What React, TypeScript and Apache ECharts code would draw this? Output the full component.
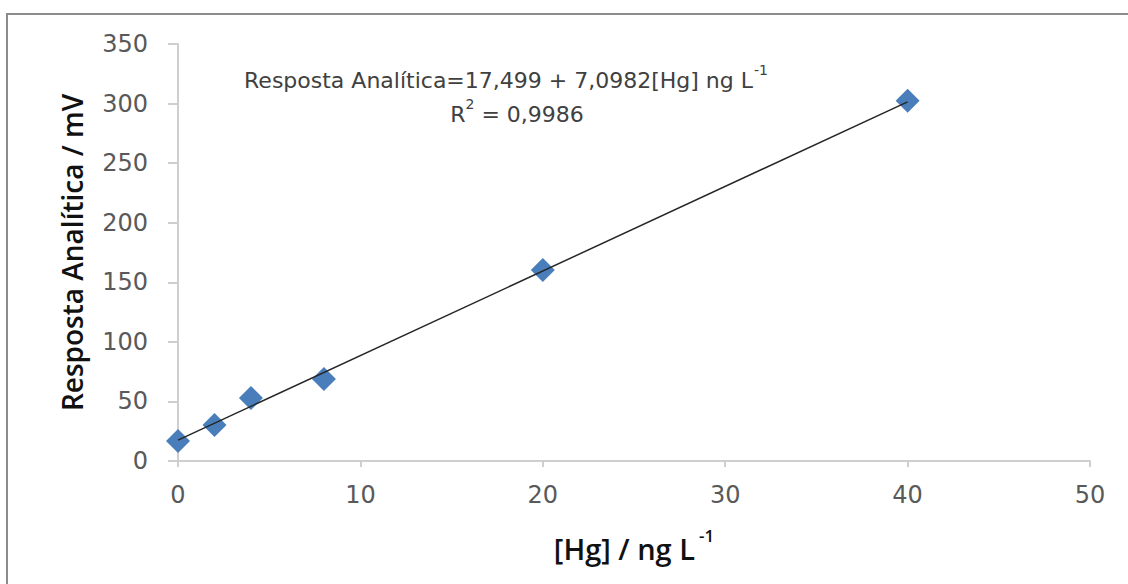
import React, { useEffect, useRef } from "react";
import * as echarts from "echarts";

const concentrations = [0, 2, 4, 8, 20, 40];
const responses = [16.8, 30.2, 52.9, 68.8, 160.4, 302.3];
const trendX = [0, 40];
const intercept = 17.499;
const slope = 7.0982;
const trendY = trendX.map((x) => intercept + slope * x);
const equationText = "Resposta Analítica=17,499 + 7,0982[Hg] ng L";
const r2Text = "0,9986";

export default function App() {
  const ref = useRef<HTMLDivElement>(null);
  useEffect(() => {
    document.body.style.margin = "0";
    const chart = echarts.init(ref.current!, undefined, { renderer: "svg" });
    chart.setOption({
      animation: false,
      backgroundColor: "#ffffff",
      grid: { left: 178, right: 38, top: 44, bottom: 123 },
      xAxis: {
        type: "value",
        min: 0,
        max: 50,
        interval: 10,
        splitLine: { show: false },
        axisLine: { show: true, lineStyle: { color: "#cfcfcf", width: 2 } },
        axisTick: { show: true, length: 6, lineStyle: { color: "#cfcfcf", width: 2 } },
        axisLabel: { fontFamily: "DejaVu Sans", fontSize: 24, color: "#595959", margin: 22 },
        name: "{a|[Hg] / ng L}{s|-1}",
        nameLocation: "middle",
        nameGap: 66,
        nameTextStyle: {
          rich: {
            a: { fontFamily: "Open Sans", fontWeight: 600, fontSize: 29, color: "#111", lineHeight: 36, verticalAlign: "bottom" },
            s: { fontFamily: "Open Sans", fontWeight: 600, fontSize: 17, color: "#111", lineHeight: 36, verticalAlign: "top", padding: [0, 0, 0, 4] },
          },
        },
      },
      yAxis: {
        type: "value",
        min: 0,
        max: 350,
        interval: 50,
        splitLine: { show: false },
        axisLine: { show: true, lineStyle: { color: "#cfcfcf", width: 2 } },
        axisTick: { show: true, length: 10, lineStyle: { color: "#cfcfcf", width: 2 } },
        axisLabel: { fontFamily: "DejaVu Sans", fontSize: 24, color: "#595959", margin: 30 },
        name: "Resposta Analítica / mV",
        nameLocation: "middle",
        nameGap: 92,
        nameTextStyle: { fontFamily: "Open Sans", fontWeight: 600, fontSize: 28, color: "#111" },
      },
      series: [
        {
          type: "line",
          data: trendX.map((x, i) => [x, trendY[i]]),
          symbol: "none",
          lineStyle: { color: "#262626", width: 1.5 },
          z: 3,
        },
        {
          type: "scatter",
          data: concentrations.map((x, i) => [x, responses[i]]),
          symbol: "diamond",
          symbolSize: 24,
          itemStyle: { color: "#4a7ebb", opacity: 1 },
          z: 2,
        },
      ],
      graphic: [
        {
          type: "rect",
          shape: { x: 7, y: 14, width: 1200, height: 700 },
          style: { fill: "none", stroke: "#8c8c8c", lineWidth: 2 },
          silent: true,
        },
        {
          type: "line",
          shape: { x1: 168, y1: 461, x2: 178, y2: 461 },
          style: { stroke: "#cfcfcf", lineWidth: 2 },
          silent: true,
        },
        {
          type: "text",
          x: 506,
          y: 77,
          style: {
            text: "{a|" + equationText + "}{s|-1}",
            align: "center",
            verticalAlign: "middle",
            rich: {
              a: { fontFamily: "DejaVu Sans", fontSize: 22, fill: "#404040", lineHeight: 28, verticalAlign: "bottom" },
              s: { fontFamily: "DejaVu Sans", fontSize: 14, fill: "#404040", lineHeight: 28, verticalAlign: "top", padding: [0, 0, 0, 1] },
            },
          },
        },
        {
          type: "text",
          x: 517,
          y: 111,
          style: {
            text: "{a|R}{s|2}{a| = " + r2Text + "}",
            align: "center",
            verticalAlign: "middle",
            rich: {
              a: { fontFamily: "DejaVu Sans", fontSize: 22, fill: "#404040", lineHeight: 28, verticalAlign: "bottom" },
              s: { fontFamily: "DejaVu Sans", fontSize: 14, fill: "#404040", lineHeight: 28, verticalAlign: "top" },
            },
          },
        },
      ],
    });
    return () => chart.dispose();
  }, []);
  return <div ref={ref} style={{ width: 1128, height: 584 }} />;
}
